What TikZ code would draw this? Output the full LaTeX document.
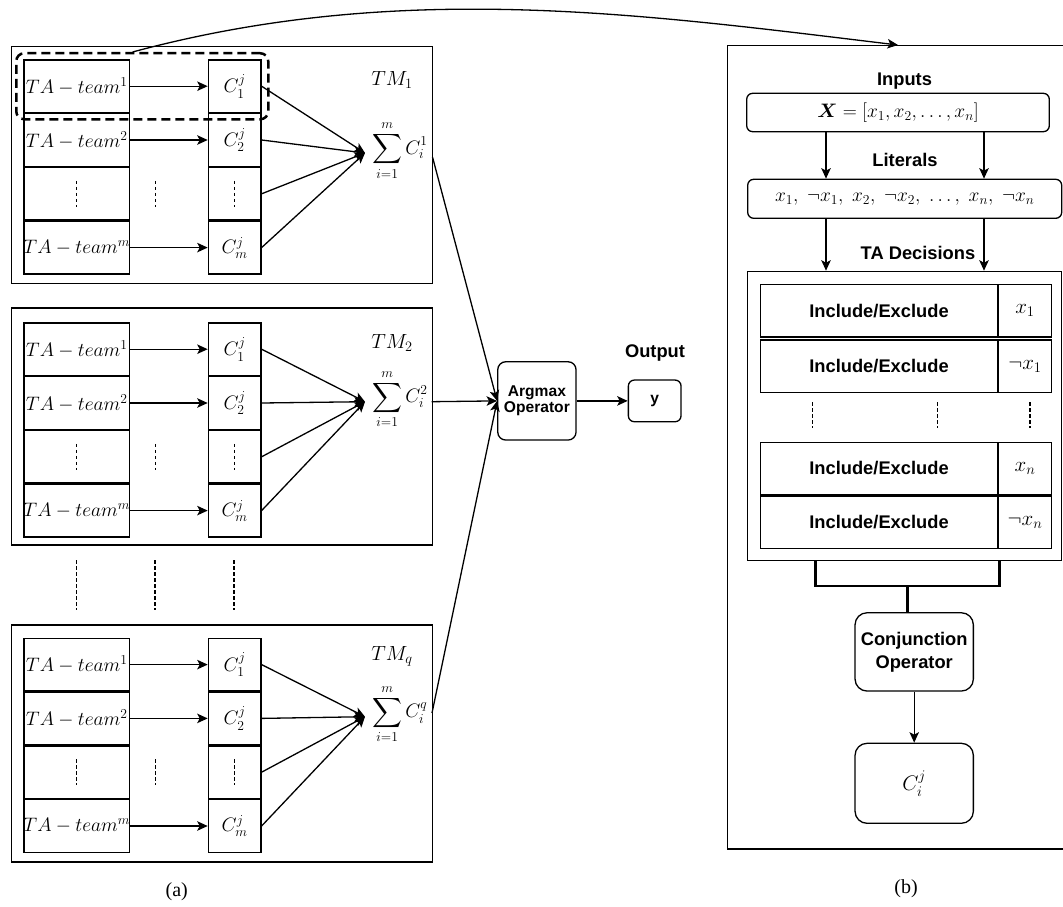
\RequirePackage{fix-cm}
\documentclass[tikz,border=0pt]{standalone}
\usepackage{amsmath}
\usepackage{fontspec}
\newfontfamily\arialfont{Liberation Sans}
\newfontfamily\serifTimes{Liberation Serif}
\usetikzlibrary{arrows.meta,calc}

\tikzset{
  mathfont/.style={font=\fontsize{19.5}{22}\selectfont},
  bigmath/.style={font=\fontsize{21}{24}\selectfont},
  frame/.style={draw, line width=1.3pt, inner sep=0pt},
  cell/.style={draw, line width=1.3pt, minimum height=52.5pt, inner sep=0pt, mathfont},
  tacell/.style={cell, minimum width=105.7pt},
  ccell/.style={cell, minimum width=52.6pt},
  rbox/.style={draw, line width=1.3pt, rounded corners=8pt, inner sep=0pt, align=center},
  lbl/.style={font=\arialfont\bfseries\fontsize{18.3}{21}\selectfont, inner sep=0pt},
  smlbl/.style={font=\arialfont\bfseries\fontsize{15.6}{17.5}\selectfont},
  arr/.style={line width=1.3pt, -{Stealth[length=10.5pt,width=9.5pt,inset=2.5pt]}},
  dots/.style={line width=1.3pt, dash pattern=on 3.5pt off 2.5pt},
  incell/.style={draw, line width=1.3pt, minimum width=236.7pt, minimum height=52.3pt, inner sep=0pt, lbl},
  valcell/.style={draw, line width=1.3pt, minimum width=52.6pt, minimum height=52.3pt, inner sep=0pt, bigmath},
  bracket/.style={line width=2.7pt},
  caption/.style={font=\serifTimes\fontsize{20}{24}\selectfont},
}

\newcommand\tmblock[7]{%
  \node[frame, minimum width=421pt, minimum height=237pt, anchor=north west] (tm#1) at (10.7,#2) {};
  \node[tacell, anchor=north west] (ta#1a) at (23.3,#3) {\makebox[0pt]{$TA-team^1$}};
  \node[tacell, anchor=north west] (ta#1b) at (ta#1a.south west) {\makebox[0pt]{$TA-team^2$}};
  \node[tacell, anchor=north west] (ta#1c) at (ta#1b.south west) {};
  \node[tacell, anchor=north west] (ta#1d) at (ta#1c.south west) {\makebox[0pt]{$TA-team^m$}};
  \node[ccell, anchor=north west] (c#1a) at (207.7,#3) {$C_1^j$};
  \node[ccell, anchor=north west] (c#1b) at (c#1a.south west) {$C_2^j$};
  \node[ccell, anchor=north west] (c#1c) at (c#1b.south west) {};
  \node[ccell, anchor=north west] (c#1d) at (c#1c.south west) {$C_m^j$};
  \draw[dots] ([yshift=13pt]ta#1c.center) -- ([yshift=-13pt]ta#1c.center);
  \draw[dots] ([yshift=13pt]c#1c.center) -- ([yshift=-13pt]c#1c.center);
  \coordinate (mid#1) at ($(ta#1c.center)!0.5!(c#1c.center)$);
  \draw[dots] ([yshift=13pt]mid#1) -- ([yshift=-13pt]mid#1);
  \draw[arr] (ta#1a.east) -- (c#1a.west);
  \draw[arr] (ta#1b.east) -- (c#1b.west);
  \draw[arr] (ta#1d.east) -- (c#1d.west);
  \coordinate (cv#1) at (365,#4);
  \foreach \k in {a,b,c,d} {\draw[arr] (c#1\k.east) -- (cv#1);}
  \node[anchor=base west, inner sep=0pt, mathfont] (sum#1) at (372,{#4+1}) {$\displaystyle\sum_{i=1}^{m} C_i^{#6}$};
  \node[font=\fontsize{20.5}{24}\selectfont, inner sep=0pt] (lab#1) at (392,#7) {$TM_{#5}$};
}

\begin{document}
\begin{tikzpicture}[x=1pt,y=-1pt]
\useasboundingbox (0,0) rectangle (1063,907);
\clip (0,0) rectangle (1063,907);

% ---------- panel (a) ----------
\tmblock{A}{46}{59.3}{153}{1}{1}{80}
\tmblock{B}{307.3}{322.3}{401.7}{2}{2}{343}
\tmblock{Q}{624.3}{637.7}{716.7}{q}{q}{656}

% dots between TM blocks
\coordinate (gd1) at (76.2,560);
\coordinate (gd2) at (155.1,560);
\coordinate (gd3) at (234,560);
\foreach \g in {gd1,gd2,gd3} {\draw[dots] (\g) -- ([yshift=-50pt]\g);}

% dashed highlight
\node[draw, line width=2.5pt, dash pattern=on 9pt off 5pt, rounded corners=8pt,
      minimum width=252pt, minimum height=66pt, inner sep=0pt, anchor=north west] (dbox) at (15,52) {};

% Argmax and output
\node[rbox, smlbl, minimum width=78.3pt, minimum height=78.3pt] (argmax) at (536.9,400.9) {Argmax\\[-2pt]Operator};
\node[rbox, smlbl, rounded corners=6pt, minimum width=52.7pt, minimum height=41.7pt] (yout) at (654.7,400.9) {y};
\node[lbl] (outlab) at (655,352.7) {Output};
\draw[arr] (argmax.east) -- (yout.west);

\coordinate (oA) at (432.5,157);
\coordinate (oB) at (431.7,401.7);
\coordinate (oQ) at (432,713);
\draw[arr] (oA) -- (argmax.west);
\draw[arr] (oB) -- (argmax.west);
\draw[arr] (oQ) -- (argmax.west);

\node[caption] (capa) at (176.7,891.7) {(a)};

% ---------- panel (b) ----------
\node[frame, minimum width=340pt, minimum height=803.3pt, anchor=north west] (panelb) at (726.7,45) {};

% curved connector
\coordinate (cs) at ($(dbox.north west)!0.462!(dbox.north east)$);
\coordinate (ce) at (898,45);
\draw[arr] (cs) .. controls (400,-20) and (640,14) .. (ce);

\node[lbl] (inlab) at (904.5,80.7) {Inputs};
\node[rbox, mathfont, rounded corners=6pt, minimum width=302.6pt, minimum height=38.4pt] (xin) at (898,112.5) {$\boldsymbol{X} = [x_1, x_2, \ldots, x_n]$};
\node[lbl] (litlab) at (905,160) {Literals};
\node[rbox, mathfont, rounded corners=6pt, minimum width=314pt, minimum height=39pt] (lit) at (904.7,198.8) {$x_1,\; \neg x_1,\; x_2,\; \neg x_2,\; \ldots,\; x_n,\; \neg x_n$};
\node[lbl] (talab) at (918,252.7) {TA Decisions};

\coordinate (ax1) at (826,0);
\coordinate (ax2) at (984,0);
\draw[arr] (xin.south -| ax1) -- (lit.north -| ax1);
\draw[arr] (xin.south -| ax2) -- (lit.north -| ax2);

\node[frame, minimum width=314.3pt, minimum height=289.3pt, anchor=north west] (tabox) at (746.7,270.7) {};
\draw[arr] (lit.south -| ax1) -- (tabox.north -| ax1);
\draw[arr] (lit.south -| ax2) -- (tabox.north -| ax2);

\node[incell, anchor=north west] (inc1) at (760,284) {Include/Exclude};
\node[valcell, anchor=north west] (val1) at (inc1.north east) {$x_1$};
\node[incell, anchor=north west] (inc2) at (760,339.3) {Include/Exclude};
\node[valcell, anchor=north west] (val2) at (inc2.north east) {$\neg x_1$};
\node[incell, anchor=north west] (inc3) at (760,441.7) {Include/Exclude};
\node[valcell, anchor=north west] (val3) at (inc3.north east) {$x_n$};
\node[incell, anchor=north west] (inc4) at (inc3.south west) {Include/Exclude};
\node[valcell, anchor=north west] (val4) at (inc4.north east) {$\neg x_n$};

\coordinate (rd1) at (812.7,402);
\coordinate (rd2) at (937.7,402);
\coordinate (rd3) at (1030,402);
\foreach \g in {rd1,rd2,rd3} {\draw[dots] (\g) -- ([yshift=-26pt]\g);}

% conjunction and clause
\node[rbox, lbl, rounded corners=12pt, minimum width=118.3pt, minimum height=78.3pt] (conj) at (914.2,651.9) {Conjunction\\[2pt]Operator};
\node[rbox, bigmath, rounded corners=12pt, minimum width=118.3pt, minimum height=80pt] (cbox) at (914.2,783.3) {$C_i^j$};

\coordinate (bl) at (815.7,586);
\coordinate (br) at (999.3,586);
\coordinate (bm) at (907.7,586);
\draw[bracket] (tabox.south -| bl) -- (bl) -- (br) -- (tabox.south -| br);
\draw[bracket] (bm) -- (conj.north -| bm);
\draw[arr] (conj.south) -- (cbox.north);

\node[caption] (capb) at (906,888.3) {(b)};
\end{tikzpicture}
\end{document}
